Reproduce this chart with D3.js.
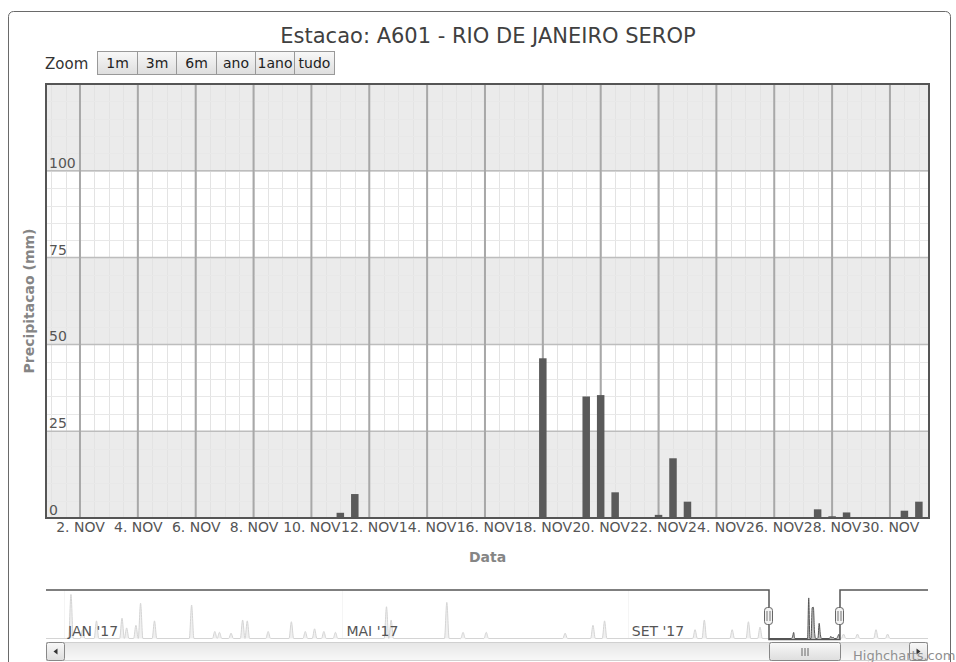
<!DOCTYPE html>
<html><head><meta charset="utf-8">
<script src="https://cdn.jsdelivr.net/npm/d3@7"></script>
<style>body{margin:0;background:#fff} text{font-family:"DejaVu Sans",sans-serif}</style>
</head><body><svg id="c" width="956" height="662"></svg>
<script>
// ---------- data ----------
const chartTitle = "Estacao: A601 - RIO DE JANEIRO SEROP";
const zoomButtons = ["1m","3m","6m","ano","1ano","tudo"];
const barTimes = ["2017-11-11T00:00","2017-11-11T12:00","2017-11-18T00:00","2017-11-19T12:00","2017-11-20T00:00","2017-11-20T12:00","2017-11-22T00:00","2017-11-22T12:00","2017-11-23T00:00","2017-11-27T12:00","2017-11-28T00:00","2017-11-28T12:00","2017-11-30T12:00","2017-12-01T00:00"];
const barValues = [1.5,6.9,46,35,35.4,7.4,0.9,17.2,4.7,2.5,0.5,1.6,2.1,4.7];
const yTicks = [0,25,50,75,100];
const xTickDates = ["2017-11-02","2017-11-04","2017-11-06","2017-11-08","2017-11-10","2017-11-12","2017-11-14","2017-11-16","2017-11-18","2017-11-20","2017-11-22","2017-11-24","2017-11-26","2017-11-28","2017-11-30"];
const xTickLabels = ["2. NOV","4. NOV","6. NOV","8. NOV","10. NOV","12. NOV","14. NOV","16. NOV","18. NOV","20. NOV","22. NOV","24. NOV","26. NOV","28. NOV","30. NOV"];
const navDates = ["2017-01-04","2017-01-09","2017-01-15","2017-01-26","2017-01-28","2017-02-01","2017-02-03","2017-02-09","2017-02-25","2017-03-07","2017-03-09","2017-03-14","2017-03-19","2017-03-21","2017-03-30","2017-04-09","2017-04-15","2017-04-19","2017-04-23","2017-04-28","2017-05-20","2017-05-22","2017-06-15","2017-06-22","2017-07-02","2017-08-05","2017-08-17","2017-08-22","2017-09-30","2017-10-04","2017-10-16","2017-10-23","2017-10-28","2017-12-03","2017-12-09","2017-12-17","2017-12-22"];
const navValues = [50,10,20,23,12,15,40,20,38,8,7,6,21,20,8,19,8,11,8,7,36,21,41,7,7,6,15,20,10,21,10,19,13,5,5,10,5];
const navLabelDates = ["2017-01-01","2017-05-01","2017-09-01"];
const navLabels = ["JAN '17","MAI '17","SET '17"];
const yTitle = "Precipitacao (mm)";
const xTitle = "Data";
const credit = "Highcharts.com";

// ---------- setup ----------
const svg = d3.select("#c");
const parseT = d3.utcParse("%Y-%m-%dT%H:%M");
const parseD = d3.utcParse("%Y-%m-%d");
const P = {l:46, r:929, t:84, b:518};
const x = d3.scaleUtc().domain([parseT("2017-10-31T19:48"), parseT("2017-12-01T08:24")]).range([P.l, P.r]);
const y = d3.scaleLinear().domain([0,125]).range([P.b, P.t]);

const defs = svg.append("defs");
const g1 = defs.append("linearGradient").attr("id","btn").attr("x1",0).attr("y1",0).attr("x2",0).attr("y2",1);
g1.append("stop").attr("offset","0").attr("stop-color","#f8f8f8");
g1.append("stop").attr("offset","1").attr("stop-color","#dedede");
const g2 = defs.append("linearGradient").attr("id","trk").attr("x1",0).attr("y1",0).attr("x2",0).attr("y2",1);
g2.append("stop").attr("offset","0").attr("stop-color","#e6e6e6");
g2.append("stop").attr("offset","1").attr("stop-color","#f8f8f8");

// chart border
svg.append("rect").attr("x",8.5).attr("y",11.5).attr("width",942).attr("height",700).attr("rx",5)
  .attr("fill","#fff").attr("stroke","#6a6a6a").attr("stroke-width",1);

// title
svg.append("text").attr("x",488).attr("y",43).attr("text-anchor","middle").attr("font-size",21)
  .attr("fill","#404040").text(chartTitle);

// zoom buttons
svg.append("text").attr("x",45).attr("y",69).attr("font-size",15).attr("fill","#333").text("Zoom");
const btnX = [97,137,176,216,255,294,334];
zoomButtons.forEach((b,i)=>{
  svg.append("rect").attr("x",btnX[i]+0.5).attr("y",51.5).attr("width",btnX[i+1]-btnX[i]).attr("height",23)
    .attr("fill","url(#btn)").attr("stroke","#999");
  svg.append("text").attr("x",(btnX[i]+btnX[i+1])/2+0.5).attr("y",67.5).attr("text-anchor","middle")
    .attr("font-size",14).attr("fill","#222").text(b);
});

// bands
const plotG = svg.append("g");
plotG.append("rect").attr("x",P.l).attr("y",P.t).attr("width",P.r-P.l).attr("height",P.b-P.t).attr("fill","#fff");
[0,25,50,75,100].forEach(v=>{
  if ((v/25)%2===0) plotG.append("rect").attr("x",P.l).attr("width",P.r-P.l)
    .attr("y",y(v+25)).attr("height",y(v)-y(v+25)).attr("fill","#ebebeb");
});
// minor grid
const minorX = d3.utcHour.every(12).range(x.domain()[0], x.domain()[1]);
plotG.selectAll(".mx").data(minorX).join("line")
  .attr("x1",d=>Math.round(x(d))+0.5).attr("x2",d=>Math.round(x(d))+0.5).attr("y1",P.t).attr("y2",P.b)
  .attr("stroke","#e3e3e3").attr("stroke-width",1);
const minorY = d3.range(5,125,5);
plotG.selectAll(".my").data(minorY).join("line")
  .attr("x1",P.l).attr("x2",P.r).attr("y1",d=>Math.round(y(d))+0.5).attr("y2",d=>Math.round(y(d))+0.5)
  .attr("stroke","#e8e8e8").attr("stroke-width",1);
// major grid
plotG.selectAll(".gy").data(yTicks.concat([125])).join("line")
  .attr("x1",P.l).attr("x2",P.r).attr("y1",d=>y(d)).attr("y2",d=>y(d))
  .attr("stroke","#bdbdbd").attr("stroke-width",1.5);
const xTicks = xTickDates.map(parseD);
plotG.selectAll(".gx").data(xTicks).join("line")
  .attr("x1",d=>x(d)).attr("x2",d=>x(d)).attr("y1",P.t).attr("y2",P.b)
  .attr("stroke","#a8a8a8").attr("stroke-width",2);

// bars
const bars = barTimes.map((t,i)=>({t:parseT(t), v:barValues[i]}));
plotG.selectAll(".bar").data(bars).join("rect")
  .attr("x",d=>x(d.t)-3.75).attr("width",7.5)
  .attr("y",d=>y(d.v)).attr("height",d=>y(0)-y(d.v))
  .attr("fill","#5a5a5a");

// plot border
svg.append("rect").attr("x",P.l).attr("y",P.t).attr("width",P.r-P.l).attr("height",P.b-P.t)
  .attr("fill","none").attr("stroke","#555").attr("stroke-width",2);

// y labels
svg.selectAll(".yl").data(yTicks).join("text")
  .attr("x",49).attr("y",d=>y(d)-3).attr("font-size",14).attr("fill","#555").text(d=>d);
// x axis labels
const xAxis = d3.axisBottom(x).tickValues(xTicks).tickSize(0).tickPadding(0)
  .tickFormat((d,i)=>xTickLabels[i]);
const xa = svg.append("g").attr("transform",`translate(0,${P.b})`).call(xAxis);
xa.select(".domain").remove();
xa.selectAll("text").attr("y",14).attr("dy",0).attr("font-size",14).attr("fill","#555")
  .attr("font-family","DejaVu Sans, sans-serif");

// axis titles
svg.append("text").attr("x",(P.l+P.r)/2).attr("y",562).attr("text-anchor","middle")
  .attr("font-size",14).attr("font-weight","bold").attr("fill","#858585").text(xTitle);
svg.append("text").attr("transform",`translate(34,${(P.t+P.b)/2}) rotate(-90)`).attr("text-anchor","middle")
  .attr("font-size",14).attr("font-weight","bold").attr("fill","#858585").text(yTitle);

// ---------- navigator ----------
const N = {l:46, r:928, t:590, b:638.5};
const xn = d3.scaleUtc().domain([parseT("2016-12-24T05:46"), parseT("2018-01-08T09:50")]).range([N.l, N.r]);
const yn = d3.scaleLinear().domain([0,55]).range([N.b, N.t]);
const navG = svg.append("g");
navG.selectAll(".ng").data(navLabelDates.map(parseD)).join("line")
  .attr("x1",d=>Math.round(xn(d))+0.5).attr("x2",d=>Math.round(xn(d))+0.5).attr("y1",N.t).attr("y2",N.b)
  .attr("stroke","#d8d8d8");
const ptMap = new Map();
navDates.forEach((d,i)=>ptMap.set(+parseD(d), navValues[i]));
bars.forEach(b=>ptMap.set(+b.t, b.v));
const DAY = 864e5, HALF = 432e5;
navDates.forEach(d=>{const t=+parseD(d); [t-DAY,t+DAY].forEach(u=>{if(!ptMap.has(u)) ptMap.set(u,0);});});
bars.forEach(b=>{const t=+b.t; [t-HALF,t+HALF].forEach(u=>{if(!ptMap.has(u)) ptMap.set(u,0);});});
ptMap.set(+xn.domain()[0],0); ptMap.set(+xn.domain()[1],0);
const navPts = Array.from(ptMap, ([t,v])=>({t:new Date(t), v})).sort((a,b)=>a.t-b.t);
navG.append("path").datum(navPts)
  .attr("d", d3.area().x(d=>xn(d.t)).y0(N.b).y1(d=>yn(d.v)).curve(d3.curveMonotoneX))
  .attr("fill","#9a9a9a").attr("fill-opacity",0.6);
navG.append("path").datum(navPts)
  .attr("d", d3.line().x(d=>xn(d.t)).y(d=>yn(d.v)).curve(d3.curveMonotoneX))
  .attr("fill","none").attr("stroke","#555").attr("stroke-width",1);
const sL = Math.round(xn(x.domain()[0])), sR = Math.round(xn(x.domain()[1]));
navG.append("rect").attr("x",N.l).attr("y",N.t).attr("width",sL-N.l).attr("height",N.b-N.t+1).attr("fill","#fff").attr("fill-opacity",0.75);
navG.append("rect").attr("x",sR).attr("y",N.t).attr("width",N.r-sR).attr("height",N.b-N.t+1).attr("fill","#fff").attr("fill-opacity",0.75);
navG.selectAll(".nl").data(navLabelDates).join("text")
  .attr("x",d=>xn(parseD(d))+4).attr("y",636).attr("font-size",14).attr("fill","#555")
  .text((d,i)=>navLabels[i]);
navG.append("path").attr("d",`M${N.l},${N.t}H${sL}V${N.b+1}H${sR}V${N.t}H${N.r}`)
  .attr("fill","none").attr("stroke","#555").attr("stroke-width",1.5);
[sL,sR].forEach(hx=>{
  navG.append("rect").attr("x",hx-4.5).attr("y",607.5).attr("width",8).attr("height",17).attr("rx",3)
    .attr("fill","#f2f2f2").attr("stroke","#666");
  [-1.5,1.5].forEach(o=>navG.append("line").attr("x1",hx+o-0.5).attr("x2",hx+o-0.5).attr("y1",611).attr("y2",621).attr("stroke","#777"));
});
const SB = {t:642.5, h:18};
navG.append("rect").attr("x",N.l+0.5).attr("y",SB.t).attr("width",N.r-N.l-1).attr("height",SB.h)
  .attr("fill","url(#trk)").attr("stroke","#d0d0d0");
navG.append("rect").attr("x",sL+0.5).attr("y",SB.t).attr("width",sR-sL).attr("height",SB.h).attr("rx",2)
  .attr("fill","url(#btn)").attr("stroke","#888");
[-3,0,3].forEach(o=>navG.append("line").attr("x1",(sL+sR)/2+o+0.5).attr("x2",(sL+sR)/2+o+0.5)
  .attr("y1",648).attr("y2",656).attr("stroke","#666"));
svg.append("text").attr("x",853).attr("y",660).attr("font-size",13).attr("fill","#909090").text(credit);
[[N.l+0.5,-1],[N.r-18.5,1]].forEach(([bx,dir])=>{
  navG.append("rect").attr("x",bx).attr("y",SB.t).attr("width",18).attr("height",SB.h).attr("rx",2)
    .attr("fill","url(#btn)").attr("stroke","#888");
  const cx = bx+9, cy = SB.t+9;
  navG.append("path").attr("d",`M${cx+2*dir},${cy}L${cx-2*dir},${cy-3}L${cx-2*dir},${cy+3}Z`).attr("fill","#333");
});
</script></body></html>
